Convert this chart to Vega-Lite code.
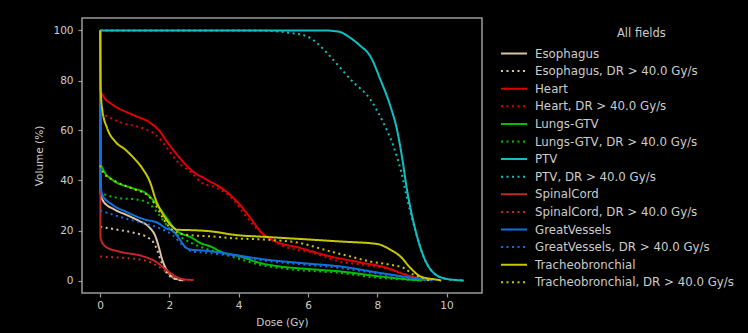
{
  "$schema": "https://vega.github.io/schema/vega-lite/v6.json",
  "width": 400,
  "height": 275,
  "autosize": {"type": "none"},
  "padding": {"left": 82, "top": 18, "right": 266, "bottom": 40},
  "background": "black",
  "config": {
    "font": "DejaVu Sans",
    "view": {"stroke": "#9a9a9a", "strokeWidth": 1.5, "fill": "black"},
    "axis": {
      "domain": false,
      "grid": false,
      "tickColor": "#9a9a9a",
      "tickSize": 4,
      "tickWidth": 1.2,
      "labelColor": "#cccccc",
      "labelFontSize": 10.5,
      "titleColor": "#cccccc",
      "titleFontSize": 10.5,
      "titleFontWeight": "normal"
    },
    "legend": {
      "titleColor": "#cccccc",
      "titleFontSize": 11.5,
      "titleFontWeight": "normal",
      "labelColor": "#cccccc",
      "labelFontSize": 11.8,
      "symbolType": "stroke",
      "symbolSize": 676,
      "symbolStrokeWidth": 2,
      "labelOffset": 7,
      "clipHeight": 16,
      "rowPadding": 1.6,
      "padding": 0,
      "titleAnchor": "middle",
      "titleAlign": "left",
      "titlePadding": 6,
      "labelLimit": 300
    }
  },
  "data": {"values": [
    {"s":"Esophagus","x":0,"y":100},{"s":"Esophagus","x":0.01,"y":35},{"s":"Esophagus","x":0.1,"y":31.5},{"s":"Esophagus","x":0.4,"y":28.5},{"s":"Esophagus","x":0.8,"y":26},{"s":"Esophagus","x":1.1,"y":24},{"s":"Esophagus","x":1.4,"y":21.5},{"s":"Esophagus","x":1.6,"y":17.5},{"s":"Esophagus","x":1.7,"y":13},{"s":"Esophagus","x":1.8,"y":8},{"s":"Esophagus","x":1.93,"y":4},{"s":"Esophagus","x":2.1,"y":1.2},{"s":"Esophagus","x":2.3,"y":0.3},{"s":"Esophagus","x":2.4,"y":0},
    {"s":"Esophagus, DR > 40.0 Gy/s","x":0,"y":21.5},{"s":"Esophagus, DR > 40.0 Gy/s","x":0.5,"y":20.3},{"s":"Esophagus, DR > 40.0 Gy/s","x":1.0,"y":19},{"s":"Esophagus, DR > 40.0 Gy/s","x":1.4,"y":17},{"s":"Esophagus, DR > 40.0 Gy/s","x":1.55,"y":15},{"s":"Esophagus, DR > 40.0 Gy/s","x":1.65,"y":12},{"s":"Esophagus, DR > 40.0 Gy/s","x":1.75,"y":8},{"s":"Esophagus, DR > 40.0 Gy/s","x":1.88,"y":4},{"s":"Esophagus, DR > 40.0 Gy/s","x":2.05,"y":1.3},{"s":"Esophagus, DR > 40.0 Gy/s","x":2.25,"y":0.3},{"s":"Esophagus, DR > 40.0 Gy/s","x":2.35,"y":0},
    {"s":"Heart","x":0,"y":100},{"s":"Heart","x":0.01,"y":76},{"s":"Heart","x":0.1,"y":73.5},{"s":"Heart","x":0.35,"y":70.4},{"s":"Heart","x":0.92,"y":66.4},{"s":"Heart","x":1.45,"y":63},{"s":"Heart","x":1.7,"y":60},{"s":"Heart","x":1.93,"y":55.5},{"s":"Heart","x":2.3,"y":49},{"s":"Heart","x":2.6,"y":44.5},{"s":"Heart","x":3.08,"y":40.3},{"s":"Heart","x":3.5,"y":37},{"s":"Heart","x":3.95,"y":31.6},{"s":"Heart","x":4.34,"y":25},{"s":"Heart","x":4.67,"y":19},{"s":"Heart","x":4.96,"y":16.3},{"s":"Heart","x":5.78,"y":13},{"s":"Heart","x":6.65,"y":9.6},{"s":"Heart","x":7.6,"y":7},{"s":"Heart","x":8.29,"y":5},{"s":"Heart","x":8.67,"y":3},{"s":"Heart","x":9.15,"y":1},{"s":"Heart","x":9.4,"y":0},
    {"s":"Heart, DR > 40.0 Gy/s","x":0,"y":67},{"s":"Heart, DR > 40.0 Gy/s","x":0.3,"y":65},{"s":"Heart, DR > 40.0 Gy/s","x":0.64,"y":63},{"s":"Heart, DR > 40.0 Gy/s","x":1.21,"y":61},{"s":"Heart, DR > 40.0 Gy/s","x":1.6,"y":58.3},{"s":"Heart, DR > 40.0 Gy/s","x":1.93,"y":53},{"s":"Heart, DR > 40.0 Gy/s","x":2.18,"y":48.3},{"s":"Heart, DR > 40.0 Gy/s","x":2.7,"y":42.3},{"s":"Heart, DR > 40.0 Gy/s","x":2.89,"y":39.5},{"s":"Heart, DR > 40.0 Gy/s","x":3.37,"y":37},{"s":"Heart, DR > 40.0 Gy/s","x":3.85,"y":32.3},{"s":"Heart, DR > 40.0 Gy/s","x":4.14,"y":27},{"s":"Heart, DR > 40.0 Gy/s","x":4.4,"y":22.5},{"s":"Heart, DR > 40.0 Gy/s","x":4.67,"y":19},{"s":"Heart, DR > 40.0 Gy/s","x":5.2,"y":14.3},{"s":"Heart, DR > 40.0 Gy/s","x":6.16,"y":11},{"s":"Heart, DR > 40.0 Gy/s","x":6.94,"y":7.5},{"s":"Heart, DR > 40.0 Gy/s","x":7.6,"y":6.3},{"s":"Heart, DR > 40.0 Gy/s","x":8.38,"y":4.3},{"s":"Heart, DR > 40.0 Gy/s","x":8.96,"y":1.6},{"s":"Heart, DR > 40.0 Gy/s","x":9.2,"y":0},
    {"s":"Lungs-GTV","x":0,"y":100},{"s":"Lungs-GTV","x":0.01,"y":47},{"s":"Lungs-GTV","x":0.1,"y":44},{"s":"Lungs-GTV","x":0.35,"y":40.3},{"s":"Lungs-GTV","x":0.92,"y":37},{"s":"Lungs-GTV","x":1.31,"y":35},{"s":"Lungs-GTV","x":1.6,"y":31},{"s":"Lungs-GTV","x":1.89,"y":25.6},{"s":"Lungs-GTV","x":2.18,"y":20.3},{"s":"Lungs-GTV","x":2.66,"y":17},{"s":"Lungs-GTV","x":2.89,"y":15},{"s":"Lungs-GTV","x":3.19,"y":13.6},{"s":"Lungs-GTV","x":3.47,"y":11.6},{"s":"Lungs-GTV","x":4.05,"y":9.6},{"s":"Lungs-GTV","x":4.62,"y":7},{"s":"Lungs-GTV","x":5.2,"y":5.6},{"s":"Lungs-GTV","x":6.0,"y":4.6},{"s":"Lungs-GTV","x":6.94,"y":3.6},{"s":"Lungs-GTV","x":8.09,"y":1.6},{"s":"Lungs-GTV","x":9.0,"y":0.3},{"s":"Lungs-GTV","x":9.3,"y":0},
    {"s":"Lungs-GTV, DR > 40.0 Gy/s","x":0,"y":36},{"s":"Lungs-GTV, DR > 40.0 Gy/s","x":0.06,"y":35},{"s":"Lungs-GTV, DR > 40.0 Gy/s","x":0.54,"y":33},{"s":"Lungs-GTV, DR > 40.0 Gy/s","x":1.12,"y":32.3},{"s":"Lungs-GTV, DR > 40.0 Gy/s","x":1.45,"y":30.3},{"s":"Lungs-GTV, DR > 40.0 Gy/s","x":1.7,"y":26.3},{"s":"Lungs-GTV, DR > 40.0 Gy/s","x":1.99,"y":21},{"s":"Lungs-GTV, DR > 40.0 Gy/s","x":2.37,"y":17},{"s":"Lungs-GTV, DR > 40.0 Gy/s","x":2.95,"y":13.2},{"s":"Lungs-GTV, DR > 40.0 Gy/s","x":3.47,"y":11},{"s":"Lungs-GTV, DR > 40.0 Gy/s","x":4.05,"y":8.5},{"s":"Lungs-GTV, DR > 40.0 Gy/s","x":4.62,"y":6.3},{"s":"Lungs-GTV, DR > 40.0 Gy/s","x":5.5,"y":4.5},{"s":"Lungs-GTV, DR > 40.0 Gy/s","x":6.94,"y":3},{"s":"Lungs-GTV, DR > 40.0 Gy/s","x":8.09,"y":1},{"s":"Lungs-GTV, DR > 40.0 Gy/s","x":9.0,"y":0.2},{"s":"Lungs-GTV, DR > 40.0 Gy/s","x":9.2,"y":0},
    {"s":"PTV","x":0,"y":100},{"s":"PTV","x":6.5,"y":100},{"s":"PTV","x":6.9,"y":99.5},{"s":"PTV","x":7.23,"y":97},{"s":"PTV","x":7.5,"y":94},{"s":"PTV","x":7.8,"y":89.7},{"s":"PTV","x":8.09,"y":80.4},{"s":"PTV","x":8.38,"y":69.7},{"s":"PTV","x":8.57,"y":60.4},{"s":"PTV","x":8.72,"y":49},{"s":"PTV","x":8.86,"y":36.3},{"s":"PTV","x":9.1,"y":20.3},{"s":"PTV","x":9.34,"y":9.6},{"s":"PTV","x":9.63,"y":3},{"s":"PTV","x":10.02,"y":0.6},{"s":"PTV","x":10.5,"y":0},
    {"s":"PTV, DR > 40.0 Gy/s","x":0,"y":100},{"s":"PTV, DR > 40.0 Gy/s","x":4.5,"y":100},{"s":"PTV, DR > 40.0 Gy/s","x":5.5,"y":99},{"s":"PTV, DR > 40.0 Gy/s","x":6.0,"y":97.5},{"s":"PTV, DR > 40.0 Gy/s","x":6.3,"y":94.5},{"s":"PTV, DR > 40.0 Gy/s","x":6.65,"y":89.5},{"s":"PTV, DR > 40.0 Gy/s","x":7.0,"y":84},{"s":"PTV, DR > 40.0 Gy/s","x":7.23,"y":80.4},{"s":"PTV, DR > 40.0 Gy/s","x":7.8,"y":72.4},{"s":"PTV, DR > 40.0 Gy/s","x":8.18,"y":63},{"s":"PTV, DR > 40.0 Gy/s","x":8.47,"y":53.7},{"s":"PTV, DR > 40.0 Gy/s","x":8.7,"y":43},{"s":"PTV, DR > 40.0 Gy/s","x":8.86,"y":33},{"s":"PTV, DR > 40.0 Gy/s","x":9.1,"y":20},{"s":"PTV, DR > 40.0 Gy/s","x":9.34,"y":9.4},{"s":"PTV, DR > 40.0 Gy/s","x":9.63,"y":3},{"s":"PTV, DR > 40.0 Gy/s","x":10.0,"y":0.6},{"s":"PTV, DR > 40.0 Gy/s","x":10.5,"y":0},
    {"s":"SpinalCord","x":0,"y":100},{"s":"SpinalCord","x":0.01,"y":17},{"s":"SpinalCord","x":0.15,"y":13.6},{"s":"SpinalCord","x":0.54,"y":11.6},{"s":"SpinalCord","x":1.21,"y":9.8},{"s":"SpinalCord","x":1.6,"y":7.6},{"s":"SpinalCord","x":1.89,"y":4.5},{"s":"SpinalCord","x":2.18,"y":1.6},{"s":"SpinalCord","x":2.4,"y":0.5},{"s":"SpinalCord","x":2.7,"y":0.2},
    {"s":"SpinalCord, DR > 40.0 Gy/s","x":0,"y":9.6},{"s":"SpinalCord, DR > 40.0 Gy/s","x":0.7,"y":9},{"s":"SpinalCord, DR > 40.0 Gy/s","x":1.2,"y":8.3},{"s":"SpinalCord, DR > 40.0 Gy/s","x":1.5,"y":7},{"s":"SpinalCord, DR > 40.0 Gy/s","x":1.8,"y":4.5},{"s":"SpinalCord, DR > 40.0 Gy/s","x":2.1,"y":1.6},{"s":"SpinalCord, DR > 40.0 Gy/s","x":2.3,"y":0.5},{"s":"SpinalCord, DR > 40.0 Gy/s","x":2.5,"y":0},
    {"s":"GreatVessels","x":0,"y":100},{"s":"GreatVessels","x":0.01,"y":40},{"s":"GreatVessels","x":0.06,"y":34.3},{"s":"GreatVessels","x":0.35,"y":30.3},{"s":"GreatVessels","x":0.73,"y":27.6},{"s":"GreatVessels","x":1.31,"y":24.3},{"s":"GreatVessels","x":1.64,"y":23.2},{"s":"GreatVessels","x":1.89,"y":21},{"s":"GreatVessels","x":2.12,"y":19.5},{"s":"GreatVessels","x":2.27,"y":17},{"s":"GreatVessels","x":2.45,"y":13.5},{"s":"GreatVessels","x":2.6,"y":12.4},{"s":"GreatVessels","x":2.95,"y":12},{"s":"GreatVessels","x":3.24,"y":11.6},{"s":"GreatVessels","x":3.85,"y":10.3},{"s":"GreatVessels","x":4.82,"y":8.3},{"s":"GreatVessels","x":5.78,"y":7},{"s":"GreatVessels","x":6.94,"y":5.6},{"s":"GreatVessels","x":8.09,"y":3},{"s":"GreatVessels","x":9.05,"y":1},{"s":"GreatVessels","x":9.6,"y":0},
    {"s":"GreatVessels, DR > 40.0 Gy/s","x":0,"y":28},{"s":"GreatVessels, DR > 40.0 Gy/s","x":0.54,"y":25.6},{"s":"GreatVessels, DR > 40.0 Gy/s","x":1.21,"y":23},{"s":"GreatVessels, DR > 40.0 Gy/s","x":1.7,"y":21},{"s":"GreatVessels, DR > 40.0 Gy/s","x":2.08,"y":18.3},{"s":"GreatVessels, DR > 40.0 Gy/s","x":2.37,"y":14.3},{"s":"GreatVessels, DR > 40.0 Gy/s","x":2.66,"y":11.6},{"s":"GreatVessels, DR > 40.0 Gy/s","x":3.14,"y":11},{"s":"GreatVessels, DR > 40.0 Gy/s","x":3.85,"y":9.8},{"s":"GreatVessels, DR > 40.0 Gy/s","x":4.82,"y":7.8},{"s":"GreatVessels, DR > 40.0 Gy/s","x":5.78,"y":6.5},{"s":"GreatVessels, DR > 40.0 Gy/s","x":6.94,"y":5},{"s":"GreatVessels, DR > 40.0 Gy/s","x":8.09,"y":2.6},{"s":"GreatVessels, DR > 40.0 Gy/s","x":9.05,"y":0.8},{"s":"GreatVessels, DR > 40.0 Gy/s","x":9.5,"y":0},
    {"s":"Tracheobronchial","x":0,"y":100},{"s":"Tracheobronchial","x":0.01,"y":78},{"s":"Tracheobronchial","x":0.06,"y":68.4},{"s":"Tracheobronchial","x":0.2,"y":61},{"s":"Tracheobronchial","x":0.44,"y":55.5},{"s":"Tracheobronchial","x":0.73,"y":52.3},{"s":"Tracheobronchial","x":0.97,"y":49},{"s":"Tracheobronchial","x":1.21,"y":45},{"s":"Tracheobronchial","x":1.45,"y":39},{"s":"Tracheobronchial","x":1.6,"y":32.5},{"s":"Tracheobronchial","x":1.79,"y":27},{"s":"Tracheobronchial","x":2.03,"y":22.3},{"s":"Tracheobronchial","x":2.22,"y":20.3},{"s":"Tracheobronchial","x":2.5,"y":20.2},{"s":"Tracheobronchial","x":3.24,"y":19.6},{"s":"Tracheobronchial","x":3.85,"y":18.3},{"s":"Tracheobronchial","x":4.82,"y":17.4},{"s":"Tracheobronchial","x":5.78,"y":16.6},{"s":"Tracheobronchial","x":6.94,"y":15.6},{"s":"Tracheobronchial","x":8.0,"y":14.6},{"s":"Tracheobronchial","x":8.38,"y":12.3},{"s":"Tracheobronchial","x":8.67,"y":9.6},{"s":"Tracheobronchial","x":8.96,"y":5},{"s":"Tracheobronchial","x":9.25,"y":1.6},{"s":"Tracheobronchial","x":9.73,"y":0.3},{"s":"Tracheobronchial","x":9.85,"y":0},
    {"s":"Tracheobronchial, DR > 40.0 Gy/s","x":0,"y":46},{"s":"Tracheobronchial, DR > 40.0 Gy/s","x":0.1,"y":43},{"s":"Tracheobronchial, DR > 40.0 Gy/s","x":0.4,"y":40},{"s":"Tracheobronchial, DR > 40.0 Gy/s","x":0.8,"y":37.5},{"s":"Tracheobronchial, DR > 40.0 Gy/s","x":1.02,"y":36.3},{"s":"Tracheobronchial, DR > 40.0 Gy/s","x":1.41,"y":33.6},{"s":"Tracheobronchial, DR > 40.0 Gy/s","x":1.65,"y":29},{"s":"Tracheobronchial, DR > 40.0 Gy/s","x":1.84,"y":24.3},{"s":"Tracheobronchial, DR > 40.0 Gy/s","x":2.08,"y":20.3},{"s":"Tracheobronchial, DR > 40.0 Gy/s","x":2.47,"y":18.3},{"s":"Tracheobronchial, DR > 40.0 Gy/s","x":3.24,"y":17.6},{"s":"Tracheobronchial, DR > 40.0 Gy/s","x":3.85,"y":16.9},{"s":"Tracheobronchial, DR > 40.0 Gy/s","x":4.82,"y":16.3},{"s":"Tracheobronchial, DR > 40.0 Gy/s","x":5.78,"y":15},{"s":"Tracheobronchial, DR > 40.0 Gy/s","x":6.3,"y":13},{"s":"Tracheobronchial, DR > 40.0 Gy/s","x":6.74,"y":11.3},{"s":"Tracheobronchial, DR > 40.0 Gy/s","x":7.23,"y":9.6},{"s":"Tracheobronchial, DR > 40.0 Gy/s","x":7.8,"y":7.6},{"s":"Tracheobronchial, DR > 40.0 Gy/s","x":8.38,"y":6.3},{"s":"Tracheobronchial, DR > 40.0 Gy/s","x":8.77,"y":5},{"s":"Tracheobronchial, DR > 40.0 Gy/s","x":9.05,"y":2.3},{"s":"Tracheobronchial, DR > 40.0 Gy/s","x":9.34,"y":1},{"s":"Tracheobronchial, DR > 40.0 Gy/s","x":9.5,"y":0}
  ]},
  "mark": {"type": "line", "strokeWidth": 2, "clip": true, "interpolate": "monotone"},
  "encoding": {
    "x": {"field": "x", "type": "quantitative", "title": "Dose (Gy)",
      "scale": {"domain": [-0.525, 11.025], "nice": false, "zero": false},
      "axis": {"values": [0, 2, 4, 6, 8, 10], "labelPadding": 3, "titlePadding": 7}},
    "y": {"field": "y", "type": "quantitative", "title": "Volume (%)",
      "scale": {"domain": [-5, 105], "nice": false, "zero": false},
      "axis": {"values": [0, 20, 40, 60, 80, 100], "labelPadding": 5, "titlePadding": 8}},
    "color": {"field": "s", "type": "nominal", "title": "All fields",
      "scale": {
        "domain": ["Esophagus", "Esophagus, DR > 40.0 Gy/s", "Heart", "Heart, DR > 40.0 Gy/s", "Lungs-GTV", "Lungs-GTV, DR > 40.0 Gy/s", "PTV", "PTV, DR > 40.0 Gy/s", "SpinalCord", "SpinalCord, DR > 40.0 Gy/s", "GreatVessels", "GreatVessels, DR > 40.0 Gy/s", "Tracheobronchial", "Tracheobronchial, DR > 40.0 Gy/s"],
        "range": ["#d8c4a4", "#d8c4a4", "#e00000", "#e00000", "#00c000", "#00c000", "#10c0c0", "#10c0c0", "#c02828", "#c02828", "#1070e0", "#1070e0", "#c8c800", "#c8c800"]},
      "legend": {"orient": "none", "legendX": 418, "legendY": 10}},
    "strokeDash": {"field": "s", "type": "nominal", "title": "All fields",
      "scale": {
        "domain": ["Esophagus", "Esophagus, DR > 40.0 Gy/s", "Heart", "Heart, DR > 40.0 Gy/s", "Lungs-GTV", "Lungs-GTV, DR > 40.0 Gy/s", "PTV", "PTV, DR > 40.0 Gy/s", "SpinalCord", "SpinalCord, DR > 40.0 Gy/s", "GreatVessels", "GreatVessels, DR > 40.0 Gy/s", "Tracheobronchial", "Tracheobronchial, DR > 40.0 Gy/s"],
        "range": [[1, 0], [2, 3.5], [1, 0], [2, 3.5], [1, 0], [2, 3.5], [1, 0], [2, 3.5], [1, 0], [2, 3.5], [1, 0], [2, 3.5], [1, 0], [2, 3.5]]},
      "legend": {"orient": "none", "legendX": 418, "legendY": 10}}
  }
}
